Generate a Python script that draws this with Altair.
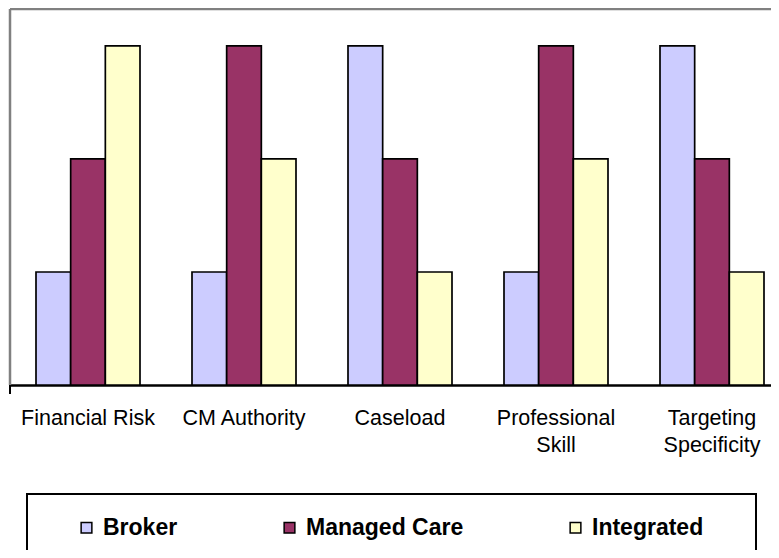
import altair as alt
import pandas as pd

categories = ["Financial Risk", "CM Authority", "Caseload", "Professional Skill", "Targeting Specificity"]
series = ["Broker", "Managed Care", "Integrated"]
broker = [1, 1, 3, 1, 3]
managed_care = [2, 3, 2, 3, 2]
integrated = [3, 2, 1, 2, 1]
colors = ["#CCCCFF", "#993366", "#FFFFCC"]

rows = []
for s, vals in zip(series, [broker, managed_care, integrated]):
    for c, v in zip(categories, vals):
        rows.append({"category": c, "series": s, "value": v})
df = pd.DataFrame(rows)

W, H = 761, 376

label_expr = ("datum.label == 'Professional Skill' ? ['Professional', 'Skill'] : "
              "datum.label == 'Targeting Specificity' ? ['Targeting', 'Specificity'] : datum.label")

bars = alt.Chart(df).mark_bar(stroke="black", strokeWidth=1.7).encode(
    x=alt.X("category:N", sort=categories,
            scale=alt.Scale(paddingInner=1/3, paddingOuter=1/6, range=[0, 780]),
            axis=alt.Axis(title=None, labelAngle=0, ticks=False, domainColor="black",
                          domainWidth=2.5, labelFont="Liberation Sans", labelFontSize=21.5,
                          labelColor="black", labelPadding=22, labelExpr=label_expr,
                          labelLineHeight=27, labelLimit=300)),
    xOffset=alt.XOffset("series:N", sort=series, scale=alt.Scale(paddingInner=0, paddingOuter=0)),
    y=alt.Y("value:Q", scale=alt.Scale(domain=[0, 3.327], nice=False), axis=None),
    color=alt.Color("series:N", sort=series,
                    scale=alt.Scale(domain=series, range=colors),
                    legend=alt.Legend(orient="none", legendX=65, legendY=507, direction="horizontal",
                                      title=None, symbolType="square", symbolSize=115,
                                      symbolStrokeColor="black", symbolStrokeWidth=1.5,
                                      labelFont="Liberation Sans", labelFontSize=23,
                                      labelFontWeight="bold", labelColor="black",
                                      columnPadding=100, labelOffset=5, padding=0)),
)

one = pd.DataFrame({"a": [0]})
top_border = alt.Chart(one).mark_rule(color="#808080", strokeWidth=2.5).encode(
    x=alt.value(0), x2=alt.value(W), y=alt.value(0))
left_border = alt.Chart(one).mark_rule(color="#808080", strokeWidth=2.5).encode(
    x=alt.value(0), y=alt.value(0), y2=alt.value(H))
tick = alt.Chart(one).mark_rule(color="black", strokeWidth=2).encode(
    x=alt.value(0), y=alt.value(H), y2=alt.value(H + 9))
box = alt.Chart(one).mark_rect(fill="transparent", stroke="black", strokeWidth=2).encode(
    x=alt.value(17), x2=alt.value(746), y=alt.value(485), y2=alt.value(580))

chart = alt.layer(top_border, left_border, bars, tick, box).properties(
    width=W, height=H,
    padding={"left": 2, "top": 1, "right": 0, "bottom": 165},
    autosize=alt.AutoSizeParams(type="none"),
).configure_view(stroke=None).configure(background="white")

chart.save("out.html", embed_options={"renderer": "svg", "actions": False})
